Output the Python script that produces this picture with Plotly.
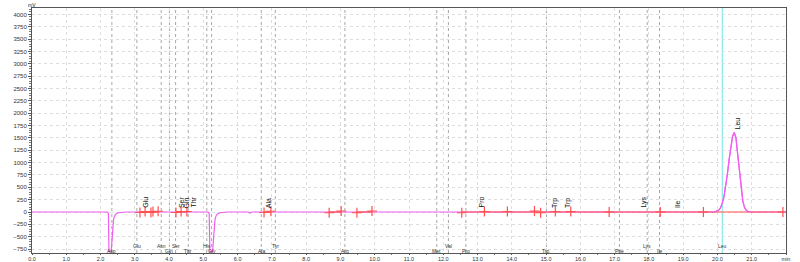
import plotly.graph_objects as go

# ---------------- data ----------------
# chromatogram (time in min, signal in mV)
chrom_t = [0.0, 2.20, 2.23, 2.245, 2.31, 2.32, 2.33, 2.345, 2.36, 2.38, 2.41, 2.45, 2.52, 2.62, 2.75,
           5.14, 5.17, 5.19, 5.27, 5.28, 5.29, 5.305, 5.32, 5.34, 5.37, 5.41, 5.48, 5.58, 5.70,
           6.30, 6.36, 6.42,
           17.55, 17.70, 17.82,
           19.90, 19.99, 20.04, 20.09, 20.14, 20.19, 20.24, 20.29, 20.34, 20.39, 20.44, 20.49,
           20.54, 20.59, 20.64, 20.69, 20.74, 20.79, 20.84, 20.89, 21.00, 22.0]
chrom_v = [0, 0, -30, -805, -805, -700, -560, -400, -260, -150, -80, -40, -15, -5, 0,
           0, -30, -805, -805, -700, -560, -400, -260, -150, -80, -40, -15, -5, 0,
           0, -22, 0,
           0, 8, 0,
           0, 16, 40, 85, 175, 310, 510, 770, 1060, 1340, 1530, 1610,
           1500, 1170, 810, 450, 220, 90, 35, 10, 0, 0]

# integration baseline segments (min)
base_start = [3.15, 4.20, 6.77, 8.67, 9.48, 12.54]
base_end = [3.68, 4.52, 6.97, 9.02, 9.92, 21.91]

# peak start / end markers
mark_t = [3.15, 3.30, 3.47, 3.53, 3.68, 4.20, 4.35, 4.52, 6.77, 6.97,
          8.67, 9.02, 9.48, 9.92, 12.54, 13.20, 13.87, 14.66, 14.84,
          15.27, 15.72, 16.84, 18.33, 19.59, 21.91]
mark_v = [-10, 10, -10, 10, 15, -10, 10, 10, -10, 15,
          -15, 20, -15, 20, -15, 10, 10, 20, -15,
          10, 10, 0, 0, 0, 0]

# identified peaks
peak_names = ["Glu", "Ser", "Gln", "Thr", "Ala", "Pro", "Trp", "Trp", "Lys", "Ile", "Leu"]
peak_t = [3.30, 4.35, 4.52, 4.70, 6.89, 13.13, 15.26, 15.64, 17.83, 18.82, 20.57]
peak_y = [40, 40, 40, 40, 40, 40, 40, 40, 40, 40, 1630]

# standard retention times
std_names = ["Asp", "Glu", "Asn", "Gln", "Ser", "Thr", "His", "Gly", "Ala", "Tyr",
             "Arg", "Met", "Val", "Pro", "Trp", "Phe", "Lys", "Ile", "Leu"]
std_t = [2.33, 3.06, 3.77, 4.01, 4.19, 4.56, 5.10, 5.24, 6.69, 7.10,
         9.13, 11.81, 12.15, 12.66, 15.01, 17.14, 17.95, 18.31, 20.14]
std_row = [0, 1, 1, 0, 1, 0, 1, 0, 0, 1, 0, 0, 1, 0, 0, 0, 1, 0, 1]

x_ticks = list(range(0, 23))
x_ticktext = [f"{v:.1f}" for v in range(0, 22)] + ["min"]
y_ticks = list(range(-750, 4001, 250))

FONT = "Liberation Sans"
MAGENTA = "#f25cf2"
RED = "#ff4f4f"

fig = go.Figure()

# standard marker lines
for name, t in zip(std_names, std_t):
    col = "#6ee6e6" if name == "Leu" else "#a8a8a8"
    fig.add_shape(type="line", xref="x", yref="paper", x0=t, x1=t, y0=0, y1=1,
                  line=dict(color=col, width=1, dash="solid" if name == "Leu" else "dot"),
                  layer="below")

# chromatogram
fig.add_trace(go.Scatter(x=chrom_t, y=chrom_v, mode="lines",
                         line=dict(color=MAGENTA, width=1.2),
                         hoverinfo="skip", showlegend=False))

# baseline segments
bx, by = [], []
for s, e in zip(base_start, base_end):
    bx += [s, e, None]
    by += [0, 0, None]
fig.add_trace(go.Scatter(x=bx, y=by, mode="lines", line=dict(color=RED, width=1.2),
                         hoverinfo="skip", showlegend=False))

# Leu peak on top of baseline
pk = [i for i, t in enumerate(chrom_t) if 19.85 <= t <= 21.05]
fig.add_trace(go.Scatter(x=[chrom_t[i] for i in pk], y=[chrom_v[i] for i in pk], mode="lines",
                         line=dict(color=MAGENTA, width=1.2),
                         hoverinfo="skip", showlegend=False))

# markers
fig.add_trace(go.Scatter(x=mark_t, y=mark_v, mode="markers",
                         marker=dict(symbol="cross-thin", size=7, line=dict(color=RED, width=1.2)),
                         hoverinfo="skip", showlegend=False))

# peak labels
for n, t, y in zip(peak_names, peak_t, peak_y):
    fig.add_annotation(x=t, y=y, text=n, textangle=-90, showarrow=False,
                       xanchor="center", yanchor="bottom",
                       font=dict(family=FONT, size=7, color="#111"))

# standard labels at bottom
for n, t, r in zip(std_names, std_t, std_row):
    fig.add_annotation(x=t, y=-680 if r else -785, text=n, showarrow=False,
                       xanchor="center", yanchor="middle",
                       font=dict(family=FONT, size=5, color="#333"))

fig.add_annotation(xref="paper", yref="paper", x=0, y=1, text="mV", showarrow=False,
                   xanchor="center", yanchor="bottom", yshift=-2,
                   font=dict(family=FONT, size=5, color="#222"))

fig.update_layout(
    width=800, height=262,
    margin=dict(l=32, r=14, t=8, b=9, autoexpand=False),
    paper_bgcolor="white", plot_bgcolor="white",
    font=dict(family=FONT, size=6, color="#333"),
    xaxis=dict(range=[0, 22], tickvals=x_ticks, ticktext=x_ticktext, automargin=False,
               showgrid=True, gridcolor="#dedede", griddash="dot", gridwidth=1,
               zeroline=False, showline=True, linecolor="#555", linewidth=1, mirror=True,
               ticks="outside", ticklen=1, tickcolor="#555", tickfont=dict(size=5.5),
               ticklabelstandoff=-1,
               minor=dict(dtick=0.5, ticks="outside", ticklen=1, tickcolor="#777")),
    yaxis=dict(range=[-830, 4130], tickvals=y_ticks, automargin=False,
               showgrid=True, gridcolor="#dedede", griddash="dot", gridwidth=1,
               zeroline=False, showline=True, linecolor="#555", linewidth=1, mirror=True,
               ticks="outside", ticklen=3, tickcolor="#555", tickfont=dict(size=6),
               minor=dict(dtick=50, ticks="outside", ticklen=2, tickcolor="#777")),
)

fig.write_html("out.html")
